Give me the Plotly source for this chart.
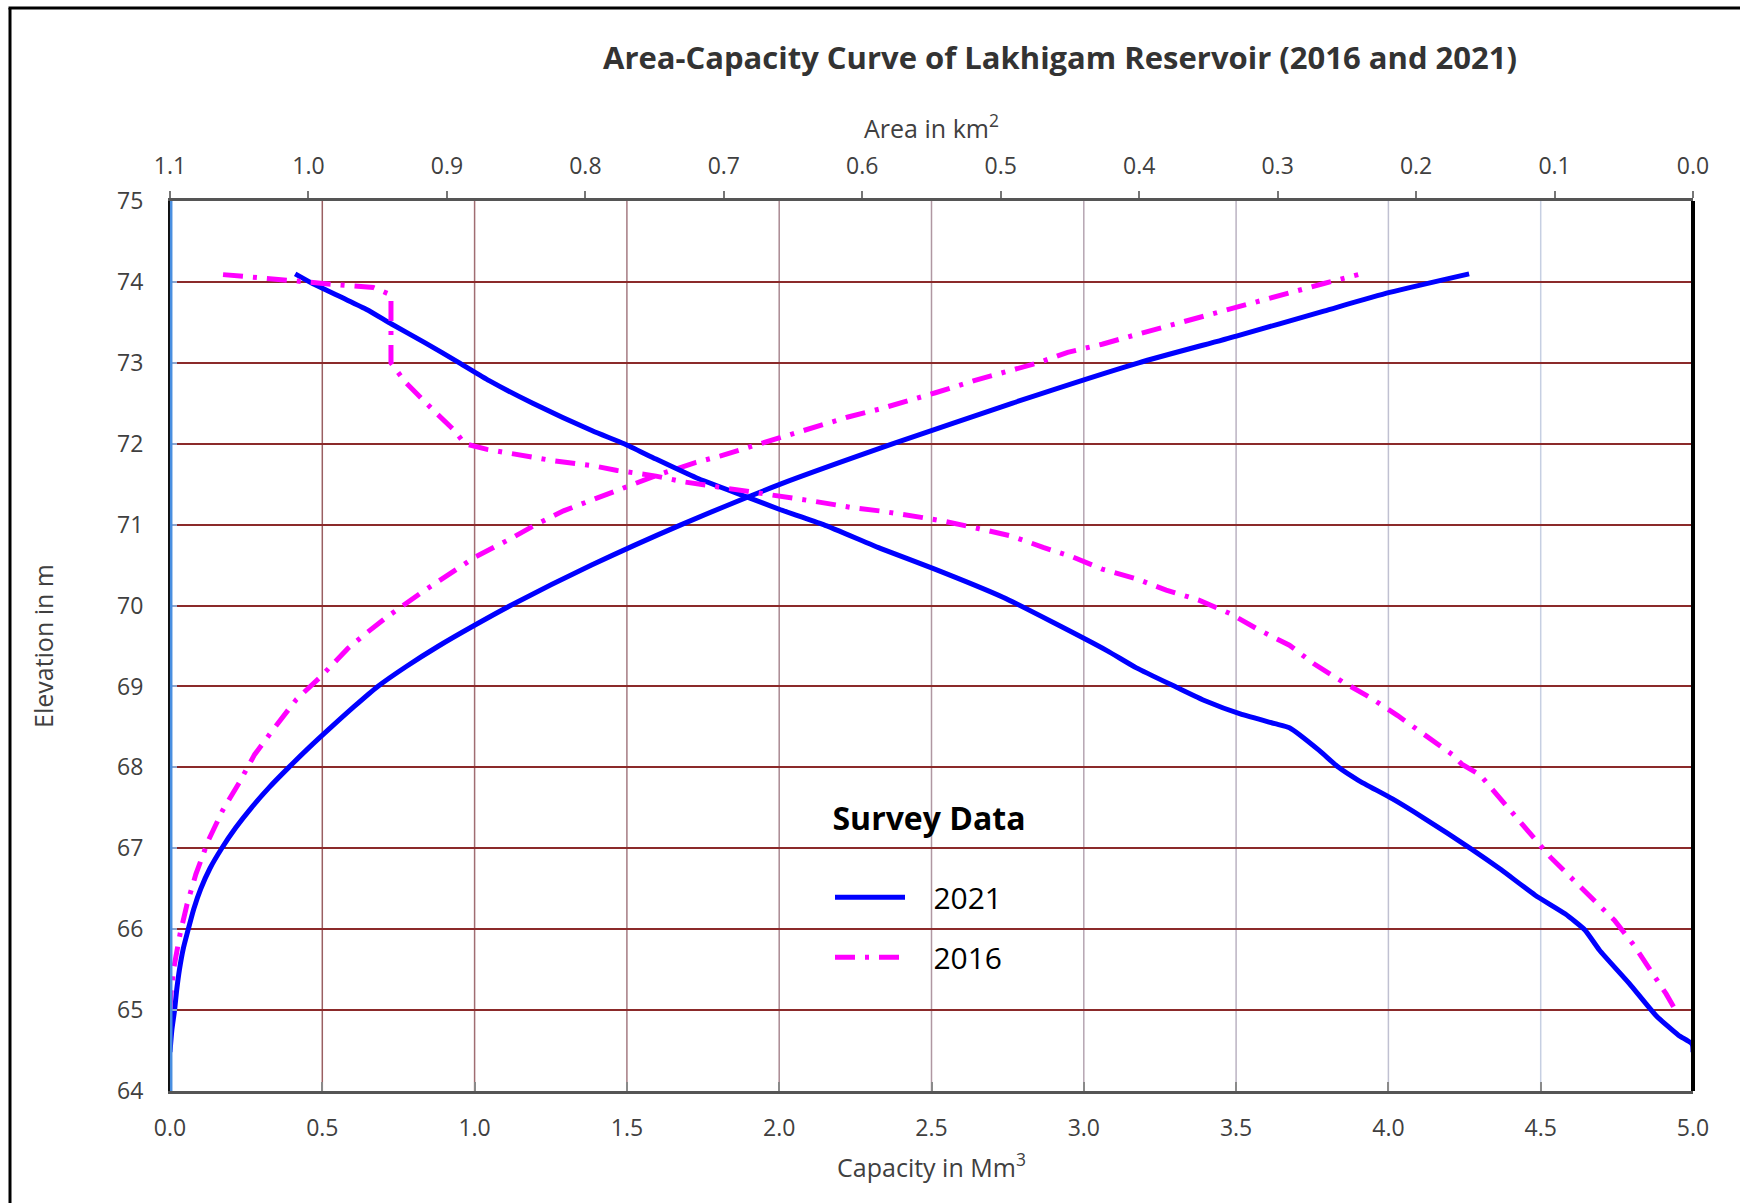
import plotly.graph_objects as go

# ---------------- data ----------------
cap_2021 = [0.0, 0.006, 0.015, 0.022, 0.031, 0.043, 0.060, 0.078, 0.101, 0.131, 0.170, 0.215,
            0.267, 0.325, 0.390, 0.458, 0.530, 0.604, 0.682, 0.777, 0.882, 0.997, 1.118,
            1.384, 1.679, 2.004, 2.374, 2.764, 3.180, 3.501, 3.788, 4.004, 4.265]
elev_cap_2021 = [64.48, 64.75, 65.00, 65.25, 65.50, 65.75, 66.00, 66.25, 66.50, 66.75, 67.00, 67.25,
                 67.50, 67.75, 68.00, 68.25, 68.50, 68.75, 69.00, 69.25, 69.50, 69.75, 70.00,
                 70.50, 71.00, 71.50, 72.00, 72.50, 73.00, 73.33, 73.64, 73.87, 74.10]

area_2021 = [1.0096, 0.997, 0.975, 0.958, 0.940, 0.916, 0.891, 0.8695, 0.838, 0.795, 0.772,
             0.749, 0.720, 0.683, 0.660, 0.628, 0.586, 0.549, 0.498, 0.462, 0.423, 0.402,
             0.373, 0.352, 0.327, 0.302, 0.2915, 0.270, 0.256, 0.2417, 0.217, 0.195, 0.160,
             0.139, 0.114, 0.0924, 0.0781, 0.0675, 0.0461, 0.0266, 0.0105, 0.0006, 0.0]
elev_area_2021 = [74.10, 73.98, 73.80, 73.66, 73.48, 73.25, 73.00, 72.78, 72.50, 72.16, 72.00,
                  71.81, 71.58, 71.34, 71.19, 71.00, 70.70, 70.46, 70.10, 69.79, 69.44, 69.23,
                  68.99, 68.82, 68.66, 68.54, 68.49, 68.21, 68.00, 67.84, 67.61, 67.38, 66.99,
                  66.74, 66.42, 66.19, 65.99, 65.74, 65.33, 64.93, 64.69, 64.58, 64.48]

cap_2016 = [0.0, 0.003, 0.012, 0.033, 0.056, 0.085, 0.125, 0.173, 0.227, 0.278, 0.343, 0.415,
            0.492, 0.584, 0.648, 0.713, 0.825, 0.938, 1.002, 1.115, 1.196, 1.292, 1.397,
            1.486, 1.598, 1.727, 1.808, 1.920, 2.017, 2.114, 2.226, 2.331, 2.436, 2.513,
            2.640, 2.753, 2.850, 2.947, 3.060, 3.173, 3.270, 3.367, 3.480, 3.594, 3.691,
            3.788, 3.901]
elev_cap_2016 = [65.00, 65.20, 65.51, 65.94, 66.31, 66.68, 67.09, 67.47, 67.81, 68.16, 68.49, 68.84,
                 69.11, 69.47, 69.67, 69.86, 70.16, 70.45, 70.60, 70.82, 70.99, 71.17, 71.32,
                 71.44, 71.61, 71.77, 71.85, 71.98, 72.09, 72.19, 72.33, 72.43, 72.54, 72.63,
                 72.78, 72.90, 73.00, 73.13, 73.23, 73.35, 73.45, 73.56, 73.67, 73.79, 73.89,
                 73.98, 74.09]

area_2016 = [1.0617, 1.031, 1.008, 0.983, 0.953, 0.9404, 0.9404, 0.930, 0.921, 0.909, 0.8943,
             0.8872, 0.871, 0.845, 0.823, 0.795, 0.777, 0.749, 0.7294, 0.706, 0.6815, 0.6567,
             0.6354, 0.607, 0.5875, 0.5574, 0.5405, 0.5156, 0.4925, 0.4694, 0.448, 0.4267,
             0.4018, 0.3805, 0.3573, 0.3342, 0.3147, 0.2915, 0.2738, 0.2524, 0.2329, 0.2133,
             0.192, 0.174, 0.167, 0.154, 0.142, 0.1226, 0.110, 0.103, 0.0906, 0.0746, 0.0568,
             0.0426, 0.029, 0.0194, 0.0123]
elev_area_2016 = [74.09, 74.05, 74.01, 73.97, 73.93, 73.84, 73.00, 72.76, 72.60, 72.40, 72.16,
                  72.00, 71.93, 71.85, 71.79, 71.73, 71.67, 71.60, 71.53, 71.47, 71.41, 71.35,
                  71.29, 71.21, 71.17, 71.09, 71.04, 70.95, 70.86, 70.72, 70.60, 70.45,
                  70.33, 70.19, 70.07, 69.90, 69.71, 69.51, 69.28, 69.05, 68.86, 68.64,
                  68.37, 68.16, 68.04, 67.91, 67.67, 67.28, 67.05, 66.89, 66.68, 66.40, 66.11,
                  65.80, 65.45, 65.20, 64.99]

cap_ticks = [0.0, 0.5, 1.0, 1.5, 2.0, 2.5, 3.0, 3.5, 4.0, 4.5, 5.0]
area_ticks = [1.1, 1.0, 0.9, 0.8, 0.7, 0.6, 0.5, 0.4, 0.3, 0.2, 0.1, 0.0]
elev_ticks = [64, 65, 66, 67, 68, 69, 70, 71, 72, 73, 74, 75]

# ---------------- styling ----------------
BLUE = "#0000FF"
MAGENTA = "#FF00FF"
DASHDOT = "20px,10px,4px,10px"
FONT = "Open Sans"
TXT = "#404040"
NB = "\u00a0"

fig = go.Figure()

fig.add_trace(go.Scatter(x=cap_2021, y=elev_cap_2021, mode="lines", name=NB * 3 + "2021",
                         legendgroup="a",
                         line=dict(color=BLUE, width=5, shape="spline", smoothing=0.6)))
fig.add_trace(go.Scatter(x=area_2021, y=elev_area_2021, xaxis="x2", mode="lines",
                         name=NB * 3 + "2021", legendgroup="a", showlegend=False,
                         line=dict(color=BLUE, width=5, shape="spline", smoothing=0.5)))
fig.add_trace(go.Scatter(x=cap_2016, y=elev_cap_2016, mode="lines", name=NB * 3 + "2016",
                         legendgroup="b", line=dict(color=MAGENTA, width=5, dash=DASHDOT)))
fig.add_trace(go.Scatter(x=area_2016, y=elev_area_2016, xaxis="x2", mode="lines",
                         name=NB * 3 + "2016", legendgroup="b", showlegend=False,
                         line=dict(color=MAGENTA, width=5, dash=DASHDOT)))

# vertical grid lines (colour drifts from brownish to light blue-grey as in the reference)
def mix(c1, c2, t):
    a = [int(c1[i:i + 2], 16) for i in (1, 3, 5)]
    b = [int(c2[i:i + 2], 16) for i in (1, 3, 5)]
    return "#" + "".join(f"{round(a[k] + (b[k] - a[k]) * t):02x}" for k in range(3))

shapes = []
inner = cap_ticks[1:-1]
for i, v in enumerate(inner):
    shapes.append(dict(type="line", xref="x", yref="paper", x0=v, x1=v, y0=0, y1=1,
                       layer="below",
                       line=dict(color=mix("#9a5f62", "#c6cfe2", i / (len(inner) - 1)), width=1.5)))
# left blue edge line and right thick black edge
shapes.append(dict(type="line", xref="paper", yref="paper", x0=0.0008, x1=0.0008, y0=0, y1=1,
                   line=dict(color="#4a8fe0", width=2.5)))
shapes.append(dict(type="line", xref="paper", yref="paper", x0=1, x1=1, y0=0, y1=1,
                   line=dict(color="#000000", width=4)))
# outer frame (left and top)
W, H = 1740, 1203
ML, MR, MT, MB = 170, 47, 201, 112
PW, PH = W - ML - MR, H - MT - MB
def px(xp):
    return (xp - ML) / PW
def py(yp):
    return 1 - (yp - MT) / PH
shapes.append(dict(type="line", xref="paper", yref="paper", x0=px(10), x1=px(10),
                   y0=py(8), y1=py(1210), line=dict(color="#000000", width=3)))
shapes.append(dict(type="line", xref="paper", yref="paper", x0=px(8.5), x1=px(1745),
                   y0=py(8), y1=py(8), line=dict(color="#000000", width=3)))

fig.update_layout(
    width=W, height=H,
    margin=dict(l=ML, r=MR, t=MT, b=MB),
    paper_bgcolor="white", plot_bgcolor="white",
    font=dict(family=FONT, size=23, color=TXT),
    title=dict(text="<b>Area-Capacity Curve of Lakhigam Reservoir (2016 and 2021)</b>",
               x=px(1060), xanchor="center", xref="paper", y=1 - 58 / H, yanchor="middle",
               font=dict(family=FONT, size=31, color="#333333")),
    xaxis=dict(range=[0, 5], tickvals=cap_ticks, tickformat=".1f", showgrid=False,
               zeroline=False, showline=True, linecolor="#555555", linewidth=3,
               ticks="inside", ticklen=9, tickcolor="#8a8a8a", tickwidth=2,
               tickfont=dict(size=23, color=TXT), ticklabelstandoff=14,
               title=dict(text="Capacity in Mm<sup>3</sup>", font=dict(size=25, color=TXT),
                          standoff=18)),
    xaxis2=dict(range=[1.1, 0], tickvals=area_ticks, tickformat=".1f", overlaying="x",
                side="top", showgrid=False, zeroline=False, showline=True,
                linecolor="#555555", linewidth=3, ticks="outside", ticklen=7,
                tickcolor="#777777", tickwidth=2, tickfont=dict(size=23, color=TXT),
                ticklabelstandoff=8,
                title=dict(text="Area in km<sup>2</sup>", font=dict(size=25, color=TXT),
                           standoff=4)),
    yaxis=dict(range=[64, 75], tickvals=elev_ticks, showgrid=True, gridcolor="#8b2a2a",
               gridwidth=2.2, zeroline=False, showline=True, linecolor="#111111",
               linewidth=2, ticks="inside", ticklen=7, tickcolor="#8da6cc", tickwidth=2,
               tickfont=dict(size=23, color=TXT), ticklabelstandoff=20,
               title=dict(text="Elevation in m", font=dict(size=25, color=TXT), standoff=56)),
    legend=dict(x=px(830), y=py(788), xanchor="left", yanchor="top",
                bgcolor="rgba(0,0,0,0)", borderwidth=0, tracegroupgap=18,
                itemwidth=70,
                title=dict(text="<b>Survey Data</b><br>" + NB, side="top center",
                           font=dict(size=32, color="#000000")),
                font=dict(size=30, color="#000000")),
    shapes=shapes,
    showlegend=True,
)

fig.write_html("out.html")
